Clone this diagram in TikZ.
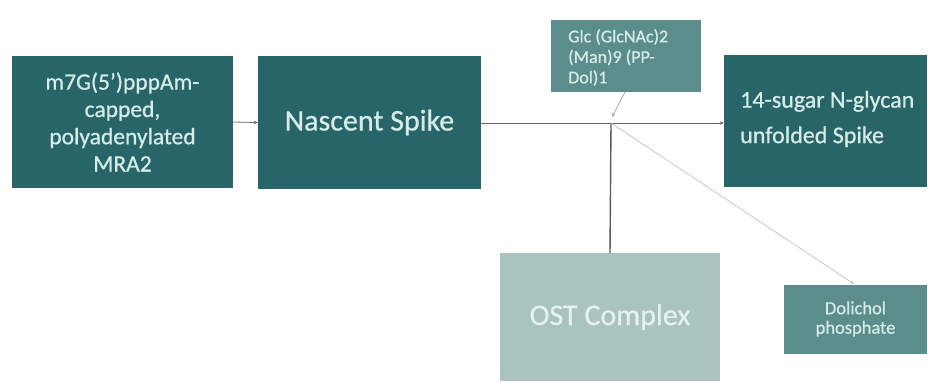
\documentclass[tikz,border=0pt]{standalone}
\usepackage{fontspec}
\setmainfont{Carlito}[FakeBold=0.7]
\usetikzlibrary{arrows.meta}
\definecolor{darkteal}{HTML}{286569}
\definecolor{midteal}{HTML}{5B8D8B}
\definecolor{lightteal}{HTML}{A9C3BF}
\definecolor{txtlight}{HTML}{D6ECE8}
\definecolor{txtwhite}{HTML}{E6F2F0}
\tikzset{
  box/.style={rectangle, inner sep=0pt, text=txtlight, font=\fontsize{23.5}{27.3}\selectfont},
  lbl/.style={inner sep=0pt, text=txtlight, align=left, anchor=west},
  conn/.style={draw=gray!80!black, line width=0.8pt, -{Stealth[length=4pt,width=3.5pt]}},
  plain/.style={draw=gray!80!black, line width=0.8pt},
}
\begin{document}
\begin{tikzpicture}[x=1pt,y=-1pt]
\useasboundingbox (0,0) rectangle (933,381);
\fill[white] (0,0) rectangle (933,381);
% boxes
\node[box, fill=darkteal, minimum width=221pt, minimum height=132pt, align=center] (mrna) at (122.5,122)
  {m7G(5’)pppAm-\\capped,\\polyadenylated\\MRA2};
\node[box, fill=darkteal, minimum width=223pt, minimum height=133pt, font=\fontsize{30}{34}\selectfont] (nasc) at (369.5,122.5) {Nascent Spike};
\node[box, fill=midteal, minimum width=150pt, minimum height=72pt] (glc) at (625.5,56) {};
\node[lbl, font=\fontsize{18}{20.5}\selectfont] (glcT) at (568,57.5)
  {Glc (GlcNAc)2\\(Man)9 (PP-\\Dol)1};
\node[box, fill=darkteal, minimum width=203pt, minimum height=132pt] (sugar) at (825.5,121) {};
\node[lbl, font=\fontsize{24}{35.5}\selectfont] (sugarT) at (740,119)
  {14-sugar N-glycan\\unfolded Spike};
\node[box, fill=lightteal, text=txtwhite, minimum width=220pt, minimum height=128pt, font=\fontsize{30}{34}\selectfont] (ost) at (610,317) {OST Complex};
\node[box, fill=midteal, minimum width=143pt, minimum height=69pt, font=\fontsize{18.5}{19.5}\selectfont, align=center] (dol) at (855.5,319)
  {Dolichol\\phosphate};
% connectors
\coordinate (J) at (611,123);
\coordinate (Jt) at (612,117);
\coordinate (Gb) at (625,92);
\draw[conn] (mrna.east) -- (nasc.west);
\draw[plain] (nasc.east |- J) -- (J);
\draw[conn] (J) -- (sugar.west |- J);
\draw[conn, draw=gray!70] (Gb) -- (Jt);
\draw[draw=black!65, line width=1.4pt] (ost.north) -- (J);
\draw[conn, draw=gray!45] (J) -- (854,284);
\end{tikzpicture}
\end{document}
